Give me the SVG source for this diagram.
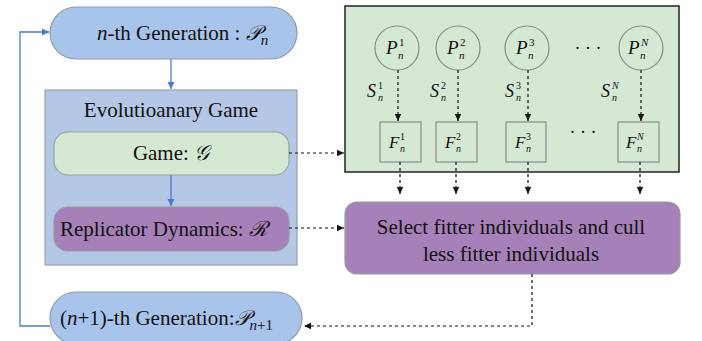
<svg xmlns="http://www.w3.org/2000/svg" width="702" height="341" viewBox="0 0 702 341" font-family="'Liberation Serif', 'Times New Roman', Times, serif">
<defs>
<style>
text{fill:#111;}
.m{font-style:italic;}
.blue{fill:#a9c4eb;stroke:#8f9aa8;stroke-width:1.2;}
.green{fill:#d5e8d4;stroke:#9aa59a;stroke-width:1.2;}
.purple{fill:#a680b8;stroke:#9a9a9a;stroke-width:1.2;}
.ind{fill:none;stroke:#8a8a8a;stroke-width:1.2;}
.bl{fill:none;stroke:#4a7bd0;stroke-width:1.3;}
.dk{fill:none;stroke:#111;stroke-width:1.2;stroke-dasharray:3,3;}
</style>
<marker id="ab" markerWidth="8" markerHeight="8" refX="7" refY="4" orient="auto" markerUnits="userSpaceOnUse"><path d="M0,0.5 L7,4 L0,7.5 z" fill="#4a7bd0"/></marker>
<marker id="ak" markerWidth="8" markerHeight="8" refX="7" refY="4" orient="auto" markerUnits="userSpaceOnUse"><path d="M0,0.8 L7,4 L0,7.2 z" fill="#111"/></marker>
</defs>

<g id="panel">
<rect x="345" y="6" width="334" height="166" fill="#d5e8d4" stroke="#222" stroke-width="1.5"/>
</g>

<g id="gen-n">
<rect class="blue" x="50" y="7" width="247" height="52" rx="26"/>
<text x="97" y="40" font-size="21"><tspan font-style="italic">n</tspan>-th Generation : <tspan font-style="italic">𝒫</tspan><tspan font-style="italic" font-size="15" dy="5">n</tspan></text>
</g>

<g id="evo-game">
<rect x="45" y="90" width="252" height="175" fill="#b4c7e7" stroke="#9aa0aa" stroke-width="1.2"/>
<text x="171" y="117" font-size="21" text-anchor="middle">Evolutioanary Game</text>
</g>

<g id="game">
<rect class="green" x="54" y="132" width="235" height="43" rx="14"/>
<text x="171" y="160" font-size="21" text-anchor="middle">Game:  <tspan font-style="italic">𝒢</tspan></text>
</g>

<g id="replicator">
<rect class="purple" x="54" y="207" width="235" height="44" rx="14"/>
<text x="60" y="236" font-size="21">Replicator Dynamics: <tspan font-style="italic">ℛ</tspan></text>
</g>

<g id="gen-n1">
<rect class="blue" x="50" y="292" width="252" height="52" rx="26"/>
<text x="60" y="325" font-size="21">(<tspan font-style="italic">n</tspan>+1)-th Generation:<tspan font-style="italic">𝒫</tspan><tspan font-size="15" dy="5"><tspan font-style="italic">n</tspan>+1</tspan></text>
</g>

<g id="select">
<rect class="purple" x="345" y="202" width="335" height="72" rx="12"/>
<text x="511" y="234" font-size="21" text-anchor="middle">Select fitter individuals and cull</text>
<text x="511" y="261" font-size="21" text-anchor="middle">less fitter individuals</text>
</g>

<g id="P1"><circle class="ind" cx="397" cy="48" r="22"/><text class="m" x="386" y="54" font-size="19">P</text><text x="399" y="46" font-size="11">1</text><text class="m" x="398" y="59" font-size="11">n</text></g>
<g id="P2"><circle class="ind" cx="458" cy="48" r="22"/><text class="m" x="447" y="54" font-size="19">P</text><text x="460" y="46" font-size="11">2</text><text class="m" x="459" y="59" font-size="11">n</text></g>
<g id="P3"><circle class="ind" cx="527" cy="48" r="22"/><text class="m" x="516" y="54" font-size="19">P</text><text x="529" y="46" font-size="11">3</text><text class="m" x="528" y="59" font-size="11">n</text></g>
<g id="PN"><circle class="ind" cx="641" cy="48" r="22"/><text class="m" x="628" y="54" font-size="19">P</text><text class="m" x="641" y="46" font-size="11">N</text><text class="m" x="640" y="59" font-size="11">n</text></g>
<text x="588" y="54" font-size="18" text-anchor="middle">· · ·</text>

<g id="F1"><rect class="ind" x="380" y="122" width="41" height="40"/><text class="m" x="389" y="148" font-size="17">F</text><text x="400" y="140" font-size="10">1</text><text class="m" x="400" y="152" font-size="10">n</text></g>
<g id="F2"><rect class="ind" x="436" y="122" width="41" height="40"/><text class="m" x="445" y="148" font-size="17">F</text><text x="456" y="140" font-size="10">2</text><text class="m" x="456" y="152" font-size="10">n</text></g>
<g id="F3"><rect class="ind" x="506" y="122" width="40" height="40"/><text class="m" x="515" y="148" font-size="17">F</text><text x="526" y="140" font-size="10">3</text><text class="m" x="526" y="152" font-size="10">n</text></g>
<g id="FN"><rect class="ind" x="618" y="122" width="41" height="40"/><text class="m" x="626" y="148" font-size="17">F</text><text class="m" x="637" y="140" font-size="10">N</text><text class="m" x="637" y="152" font-size="10">n</text></g>
<text x="583" y="138" font-size="18" text-anchor="middle">· · ·</text>

<g id="S-labels">
<text class="m" x="367" y="97" font-size="18">S</text><text x="378" y="89" font-size="10">1</text><text class="m" x="378" y="101" font-size="10">n</text>
<text class="m" x="430" y="97" font-size="18">S</text><text x="441" y="89" font-size="10">2</text><text class="m" x="441" y="101" font-size="10">n</text>
<text class="m" x="505" y="97" font-size="18">S</text><text x="516" y="89" font-size="10">3</text><text class="m" x="516" y="101" font-size="10">n</text>
<text class="m" x="601" y="97" font-size="18">S</text><text class="m" x="612" y="89" font-size="10">N</text><text class="m" x="612" y="101" font-size="10">n</text>
</g>

<g id="connectors">
<path class="bl" d="M50,326 H20 V32 H49" marker-end="url(#ab)"/>
<path class="bl" d="M171,59 V89" marker-end="url(#ab)"/>
<path class="bl" d="M171,175 V206" marker-end="url(#ab)"/>
<path class="dk" d="M289,153 H344" marker-end="url(#ak)"/>
<path class="dk" d="M289,228 H344" marker-end="url(#ak)"/>
<path class="dk" d="M398,70 V121" marker-end="url(#ak)"/>
<path class="dk" d="M458,70 V121" marker-end="url(#ak)"/>
<path class="dk" d="M528,70 V121" marker-end="url(#ak)"/>
<path class="dk" d="M641,70 V121" marker-end="url(#ak)"/>
<path class="dk" d="M400,162 V194" marker-end="url(#ak)"/>
<path class="dk" d="M456,162 V194" marker-end="url(#ak)"/>
<path class="dk" d="M528,162 V194" marker-end="url(#ak)"/>
<path class="dk" d="M640,162 V194" marker-end="url(#ak)"/>
<path class="dk" d="M532,274 V326 H304" marker-end="url(#ak)"/>
</g>
</svg>
